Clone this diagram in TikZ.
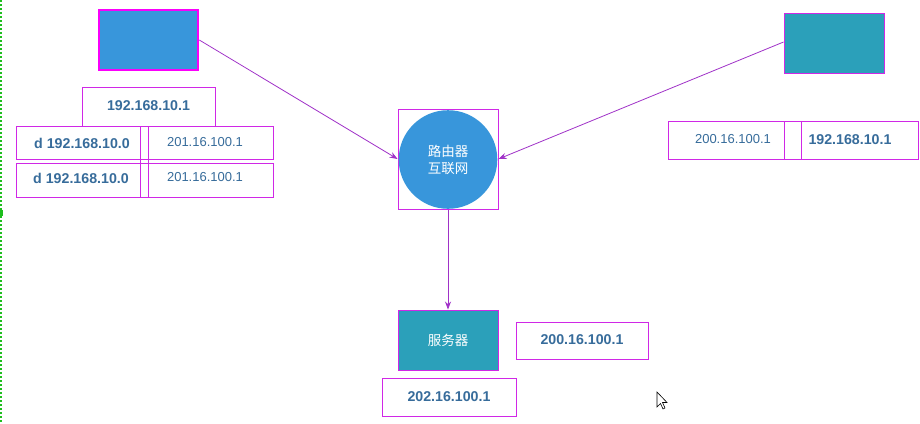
\documentclass[tikz,border=0pt]{standalone}
\usepackage{fontspec}
\setmainfont{Liberation Sans}
\newfontfamily\cjk{Noto Sans CJK SC}
\usetikzlibrary{arrows.meta}
\definecolor{edge}{RGB}{208,40,230}
\definecolor{hotpink}{RGB}{250,0,250}
\definecolor{lineclr}{RGB}{160,50,200}
\definecolor{blue1}{RGB}{56,150,219}
\definecolor{teal1}{RGB}{43,160,186}
\definecolor{txt}{RGB}{55,108,155}
\definecolor{grn}{RGB}{30,190,30}
\tikzset{
  box/.style={draw=edge, line width=0.9pt, inner sep=0, fill=white},
  lbl/.style={text=txt, font=\fontsize{13}{15}\selectfont, inner sep=0},
  blbl/.style={lbl, font=\fontsize{14.2}{16}\selectfont\bfseries},
  conn/.style={draw=lineclr, line width=0.8pt, -{Stealth[length=8pt,width=6pt]}},
  wtxt/.style={text=white, font=\cjk\fontsize{13.5}{17}\selectfont, align=center, inner sep=0}
}
\begin{document}
\begin{tikzpicture}[x=1pt,y=-1pt]
\useasboundingbox (0,0) rectangle (920,423);
\fill[white] (0,0) rectangle (920,423);
% left dashed green edge
\draw[grn, dash pattern=on 2pt off 2pt, line width=1.2pt] (1,0) -- (1,423);
\fill[grn] (0,210) rectangle (3,216);

% top-left host
\node[box, draw=hotpink, line width=2.6pt, fill=blue1, minimum width=99pt, minimum height=60pt] (hostA) at (148.5,40) {};
% top-right host
\node[box, fill=teal1, minimum width=100pt, minimum height=60pt] (hostB) at (834,43) {};

% router
\node[box, fill=none, minimum width=100pt, minimum height=100pt] (router) at (448,159.5) {};
\fill[blue1] (448,159.5) circle (49.3pt);
\node[wtxt] (rtxt) at (448,160) {路由器\\互联网};

% server
\node[box, fill=teal1, minimum width=100pt, minimum height=60pt] (server) at (448,340) {};
\node[wtxt] (stxt) at (448,340) {服务器};

% left tables
\node[box, minimum width=133pt, minimum height=39pt] (ipA) at (148.5,106.5) {};
\node[blbl] (ipAt) at (148.5,106) {192.168.10.1};
\node[box, minimum width=257pt, minimum height=33pt] (rowA1) at (144.5,142.5) {};
\node[box, minimum width=257pt, minimum height=34pt] (rowA2) at (144.5,180) {};
\draw[edge, line width=0.9pt] (140,126) -- (140,197) (148,126) -- (148,197);
\node[blbl] (a1l) at (82,143) {d 192.168.10.0};
\node[lbl] (a1r) at (205,142) {201.16.100.1};
\node[blbl] (a2l) at (81,178) {d 192.168.10.0};
\node[lbl] (a2r) at (205,177) {201.16.100.1};

% right table
\node[box, minimum width=250pt, minimum height=38pt] (rowB) at (793,140) {};
\draw[edge, line width=0.9pt] (784,121) -- (784,159) (801,121) -- (801,159);
\node[lbl] (b1) at (733,139.5) {200.16.100.1};
\node[blbl] (b2) at (850,140) {192.168.10.1};

% server labels
\node[box, minimum width=132pt, minimum height=37pt] (ipS1) at (582,340.5) {};
\node[blbl] (ipS1t) at (582,340) {200.16.100.1};
\node[box, minimum width=134pt, minimum height=38pt] (ipS2) at (449,397) {};
\node[blbl] (ipS2t) at (449,397) {202.16.100.1};

% connectors
\draw[conn] (hostA.east) -- ([yshift=0.5pt]router.west);
\draw[conn] ([yshift=1pt]hostB.west) -- ([yshift=0.5pt]router.east);
\draw[conn] (router.south) -- (server.north);

% mouse cursor
\draw[black, fill=white, line width=0.6pt] (657,392) -- (657,407) -- (660.5,403.5) -- (663,409) -- (665,408) -- (662.5,402.5) -- (667,402.5) -- cycle;
\end{tikzpicture}
\end{document}
